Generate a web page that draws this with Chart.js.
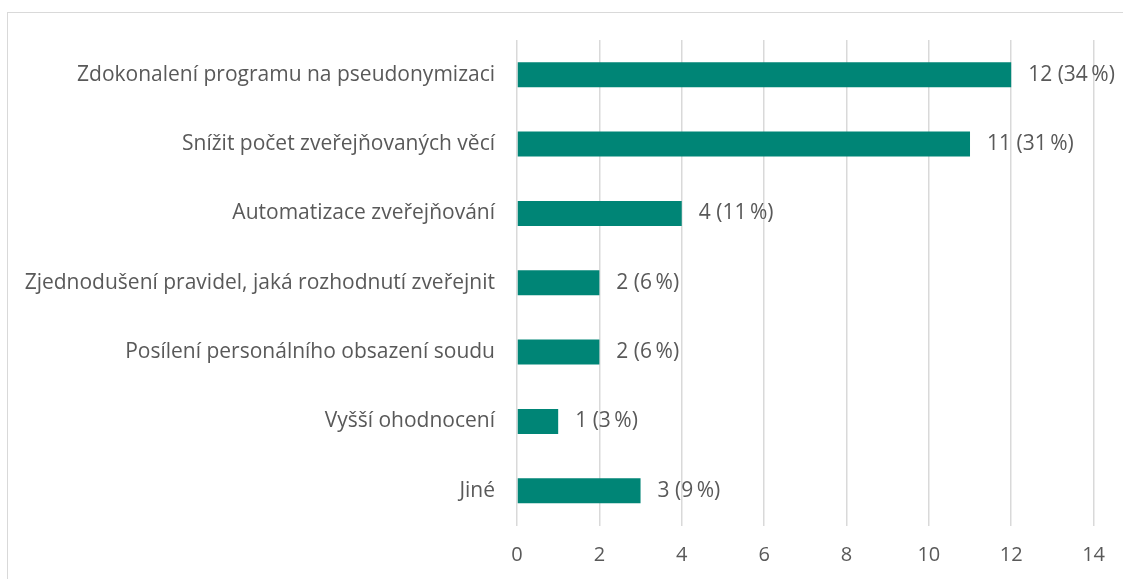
<!DOCTYPE html>
<html>
<head>
<meta charset="utf-8">
<script src="https://cdn.jsdelivr.net/npm/chart.js@4"></script>
<style>
  html, body { margin: 0; padding: 0; background: #fff; }
  #ramecek { position: absolute; left: 7px; top: 12px; width: 1200px; height: 700px; border: 1px solid #d9d9d9; }
  #obal { position: absolute; left: 0; top: 0; width: 1123px; height: 579px; }
</style>
</head>
<body>
<div id="ramecek"></div>
<div id="obal"><canvas id="graf"></canvas></div>
<script>
const kategorie = [
  'Zdokonalení programu na pseudonymizaci',
  'Snížit počet zveřejňovaných věcí',
  'Automatizace zveřejňování',
  'Zjednodušení pravidel, jaká rozhodnutí zveřejnit',
  'Posílení personálního obsazení soudu',
  'Vyšší ohodnocení',
  'Jiné'
];
const pocty = [12, 11, 4, 2, 2, 1, 3];
const procenta = [34, 31, 11, 6, 6, 3, 9];
const tickyX = [0, 2, 4, 6, 8, 10, 12, 14];

const pismo = '"Open Sans", "Noto Sans", sans-serif';
const barvaTextu = '#595959';

// popisky hodnot za koncem sloupce
const popiskyHodnot = {
  id: 'popiskyHodnot',
  afterDatasetsDraw(chart) {
    const ctx = chart.ctx;
    const meta = chart.getDatasetMeta(0);
    ctx.save();
    ctx.font = '21px ' + pismo;
    ctx.fillStyle = barvaTextu;
    ctx.textAlign = 'left';
    ctx.textBaseline = 'middle';
    meta.data.forEach((bar, i) => {
      ctx.fillText(pocty[i] + ' (' + procenta[i] + '\u2009%)', bar.x + 17, bar.y);
    });
    ctx.restore();
  }
};

new Chart(document.getElementById('graf'), {
  type: 'bar',
  data: {
    labels: kategorie,
    datasets: [{
      data: pocty,
      backgroundColor: '#008576',
      barPercentage: 0.36,
      categoryPercentage: 1
    }]
  },
  options: {
    indexAxis: 'y',
    responsive: true,
    maintainAspectRatio: false,
    animation: false,
    layout: { padding: { top: 40, right: 29, left: 0, bottom: 0 } },
    plugins: {
      legend: { display: false },
      tooltip: { enabled: false }
    },
    scales: {
      x: {
        min: 0, max: 14,
        afterBuildTicks: s => { s.ticks = tickyX.map(v => ({ value: v })); },
        afterFit: s => { s.height = 53.5; },
        grid: { color: '#d9d9d9', lineWidth: 1.5, tickLength: 0, drawTicks: false },
        border: { display: false },
        ticks: { color: barvaTextu, font: { family: pismo, size: 20 }, padding: 18 }
      },
      y: {
        afterFit: s => { s.width = 517; },
        grid: { display: false },
        border: { display: false },
        ticks: { color: barvaTextu, font: { family: pismo, size: 21 }, padding: 14 }
      }
    }
  },
  plugins: [popiskyHodnot]
});
</script>
</body>
</html>
